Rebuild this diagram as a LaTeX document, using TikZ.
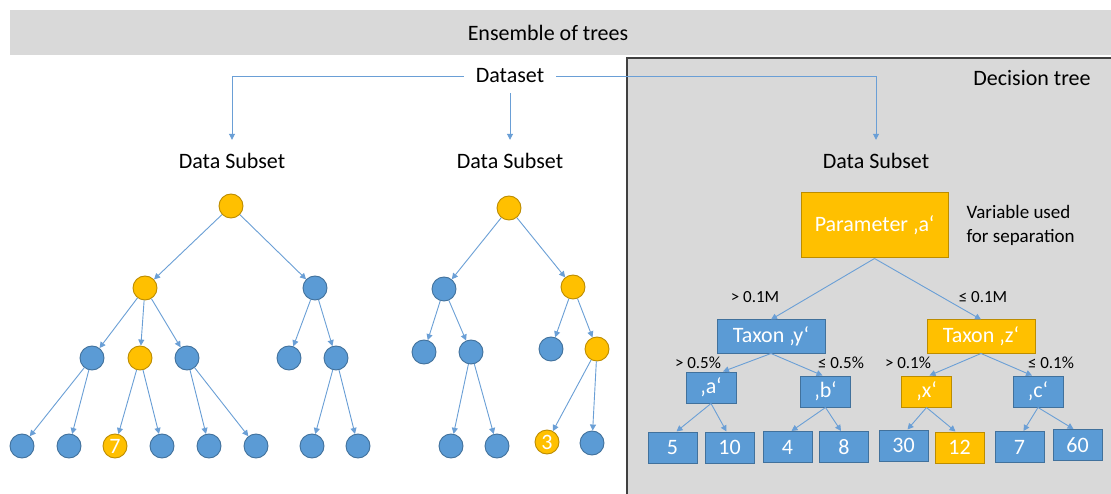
\documentclass[tikz,border=0pt]{standalone}
\usepackage{fontspec}
\setmainfont{Carlito}
\usetikzlibrary{arrows.meta}
\definecolor{nodeblue}{HTML}{5B9BD5}
\definecolor{blueedge}{HTML}{41719C}
\definecolor{nodegold}{HTML}{FFC000}
\definecolor{goldedge}{HTML}{BC8C00}
\definecolor{panelgray}{HTML}{D9D9D9}
\definecolor{paneledge}{HTML}{404040}
\definecolor{linkblue}{HTML}{6A9FD6}
\tikzset{
  x=1pt, y=-1pt,
  big/.style={font=\fontsize{22}{26}\selectfont},
  small/.style={font=\fontsize{17}{20}\selectfont},
  link/.style={draw=linkblue, line width=0.9pt, -{Triangle[width=6pt,length=6pt]}},
  bnode/.style={circle, minimum size=24pt, inner sep=0pt, fill=nodeblue, draw=blueedge, line width=0.9pt},
  ynode/.style={circle, minimum size=24pt, inner sep=0pt, fill=nodegold, draw=goldedge, line width=0.9pt, text=white, big},
  bbox/.style={rectangle, inner sep=0pt, fill=nodeblue, draw=blueedge, line width=1pt, text=white, big},
  ybox/.style={rectangle, inner sep=0pt, fill=nodegold, draw=goldedge, line width=1pt, text=white, big},
  leafbox/.style={bbox, minimum width=49pt, minimum height=31pt},
  midbox/.style={minimum width=50pt, minimum height=31pt},
  subset/.style={big, minimum height=42pt, inner sep=0pt},
}
\begin{document}
\begin{tikzpicture}
\useasboundingbox (0,0) rectangle (1111,494);
\fill[white] (0,0) rectangle (1111,494);

% banner
\fill[panelgray] (10,10) rectangle (1111,55);
\node[big] (title) at (548,33) {Ensemble of trees};

% decision tree panel
\fill[panelgray] (627,58) rectangle (1111,494);
\draw[paneledge, line width=1.4pt] (627,494) -- (627,58) -- (1111,58);
\node[big] (dtitle) at (1032,78) {Decision tree};

% dataset and its subsets
\node[big, minimum height=34pt, minimum width=92pt, inner sep=0pt] (ds) at (510,76) {Dataset};
\node[subset] (s1) at (232,161) {Data Subset};
\node[subset] (s2) at (510,161) {Data Subset};
\node[subset] (s3) at (876,161) {Data Subset};
\draw[link] (ds.west) -| (s1.north);
\draw[link] (ds.south) -- (s2.north);
\draw[link] (ds.east) -| (s3.north);

% ---------- first tree ----------
\node[ynode] (r) at (231,206) {};
\node[ynode] (a) at (145,288) {};
\node[bnode] (b) at (315,288) {};
\node[bnode] (aa) at (92,358) {};
\node[ynode] (ab) at (140,358) {};
\node[bnode] (ac) at (187,358) {};
\node[bnode] (ba) at (289,358) {};
\node[bnode] (bb) at (336,358) {};
\node[bnode] (l1) at (22,446) {};
\node[bnode] (l2) at (69,446) {};
\node[ynode] (l3) at (115,446) {7};
\node[bnode] (l4) at (162,446) {};
\node[bnode] (l5) at (209,446) {};
\node[bnode] (l6) at (256,446) {};
\node[bnode] (l7) at (312,446) {};
\node[bnode] (l8) at (358,446) {};
\foreach \p/\c in {r/a, r/b, a/aa, a/ab, a/ac, b/ba, b/bb,
                   aa/l1, aa/l2, ab/l3, ab/l4, ac/l5, ac/l6, bb/l7, bb/l8}
  \draw[link] (\p) -- (\c);

% ---------- second tree ----------
\node[ynode] (R) at (509,208) {};
\node[bnode] (A) at (444,289) {};
\node[ynode] (B) at (573,287) {};
\node[bnode] (AA) at (424,352) {};
\node[bnode] (AB) at (471,352) {};
\node[bnode] (BA) at (551,349) {};
\node[ynode] (BB) at (597,349) {};
\node[bnode] (L1) at (451,446) {};
\node[bnode] (L2) at (497,446) {};
\node[ynode] (L3) at (547,442) {3};
\node[bnode] (L4) at (592,443) {};
\foreach \p/\c in {R/A, R/B, A/AA, A/AB, B/BA, B/BB, AB/L1, AB/L2, BB/L3, BB/L4}
  \draw[link] (\p) -- (\c);

% ---------- decision tree ----------
\node[ybox, minimum width=147pt, minimum height=65pt] (par) at (874.5,225.5) {Parameter ‚a‘};
\node[anchor=west, align=left, font=\fontsize{19}{24}\selectfont] (note) at (963,225) {Variable used\\for separation};

\node[bbox, minimum width=108pt, minimum height=33pt] (ty) at (771,336.5) {Taxon ‚y‘};
\node[ybox, minimum width=108pt, minimum height=33pt] (tz) at (981,336.5) {Taxon ‚z‘};
\draw[link] (par.south) -- (ty.north);
\draw[link] (par.south) -- (tz.north);
\node[small] (c1) at (755,297) {> 0.1M};
\node[small] (c2) at (983,297) {≤ 0.1M};

\node[bbox, midbox] (na) at (711,387.5) {‚a‘};
\node[bbox, midbox] (nb) at (825.5,391.5) {‚b‘};
\node[ybox, midbox] (nx) at (926.5,391.5) {‚x‘};
\node[bbox, midbox] (nc) at (1038,391.5) {‚c‘};
\draw[link] (ty.south) -- ([xshift=12pt]na.north);
\draw[link] (ty.south) -- ([xshift=-3pt]nb.north);
\draw[link] (tz.south) -- ([xshift=3pt]nx.north);
\draw[link] (tz.south) -- ([xshift=-6pt]nc.north);
\node[small] (c3) at (698,363) {> 0.5\%};
\node[small] (c4) at (841,363) {≤ 0.5\%};
\node[small] (c5) at (908,363) {> 0.1\%};
\node[small] (c6) at (1051,363) {≤ 0.1\%};

\node[leafbox] (v5) at (672.5,447.5) {5};
\node[leafbox] (v10) at (729.5,447.5) {10};
\node[leafbox] (v4) at (787.5,447) {4};
\node[leafbox] (v8) at (844,447) {8};
\node[leafbox] (v30) at (903.5,445.5) {30};
\node[leafbox, fill=nodegold, draw=goldedge] (v12) at (959.5,447.5) {12};
\node[leafbox] (v7) at (1019.5,447) {7};
\node[leafbox] (v60) at (1077.5,445) {60};
\draw[link] (na.south) -- ([xshift=4pt]v5.north);
\draw[link] (na.south) -- ([xshift=-3pt]v10.north);
\draw[link] (nb.south) -- ([xshift=4pt]v4.north);
\draw[link] (nb.south) -- ([xshift=-3pt]v8.north);
\draw[link] (nx.south) -- ([xshift=4pt]v30.north);
\draw[link] (nx.south) -- ([xshift=-4pt]v12.north);
\draw[link] (nc.south) -- ([xshift=4pt]v7.north);
\draw[link] (nc.south) -- ([xshift=-4pt]v60.north);
\end{tikzpicture}
\end{document}
